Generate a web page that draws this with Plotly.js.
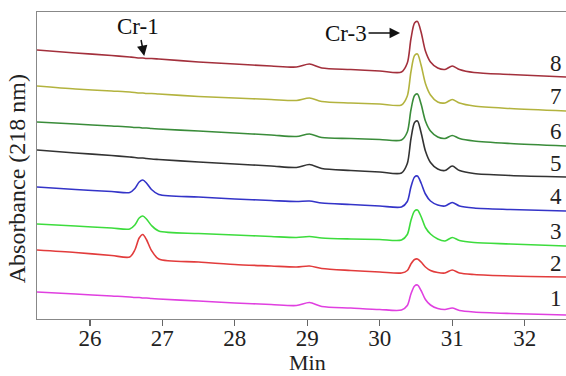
<!DOCTYPE html>
<html><head><meta charset="utf-8">
<script src="https://cdn.plot.ly/plotly-3.0.1.min.js"></script>
<style>html,body{margin:0;padding:0;background:#fff}#chart{width:566px;height:376px}</style>
</head><body><div id="chart"></div>
<script>
// Retention time (min)
const timeMin = [25.27, 25.8, 26.3, 26.55, 26.62, 26.68, 26.73, 26.78, 26.85, 26.95, 27.5, 28.0, 28.5, 28.85, 29.03, 29.2, 29.6, 30.0, 30.3, 30.38, 30.43, 30.48, 30.52, 30.57, 30.63, 30.7, 30.8, 30.9, 31.0, 31.1, 31.3, 31.8, 32.57];

// Absorbance traces (stacked, arbitrary units)
const trace1 = [27, 25, 23, 22, 21.5, 21.5, 21, 21, 20.5, 20, 18, 16, 14.5, 13.5, 16.5, 12.5, 11, 9.5, 9, 13.5, 25, 33, 34, 28.5, 19.5, 14, 10.5, 9.5, 11, 8.5, 7, 5.5, 4];
const trace2 = [69, 66.5, 63.5, 62, 69, 81, 84.5, 79.5, 68.5, 60, 57, 54.5, 53, 52, 53, 50.5, 48.5, 47, 46, 48.5, 55, 59.5, 60, 57, 52, 48.5, 46.5, 46, 49, 46, 44.5, 43, 42];
const trace3 = [95, 93, 91, 90, 94, 101, 103, 100, 93.5, 88, 85.5, 84, 82.5, 81.5, 82.5, 81, 80, 79.5, 79, 84.5, 98.5, 108, 109, 102.5, 91.5, 85, 80, 78, 81.5, 78.5, 76.5, 75, 73];
const trace4 = [132, 129.5, 127.5, 126.5, 130.5, 137, 139, 136, 129.5, 124.5, 122, 120, 118.5, 117.5, 118, 116, 114.5, 113, 112, 117.5, 132, 142, 143, 136, 125, 118, 114, 113, 116.5, 113, 111, 109.5, 108];
const trace5 = [169, 166, 163.5, 162, 161.5, 161, 161, 160.5, 160, 159.5, 157, 155, 153, 151.5, 154.5, 150.5, 148.5, 147, 146, 155.5, 180, 196.5, 198, 186.5, 168, 156.5, 150, 148.5, 153, 148.5, 145.5, 143.5, 142];
const trace6 = [197, 195, 193, 192, 191.5, 191.5, 191, 191, 190.5, 190, 188, 186, 184, 182.5, 185, 181.5, 180.5, 179.5, 179, 187, 209, 223.5, 225, 215, 198, 188, 182, 180.5, 183.5, 180.5, 178, 175.5, 173];
const trace7 = [233, 230, 228, 227, 226.5, 226, 226, 225.5, 225.5, 225, 222.5, 221, 219.5, 218.5, 221, 217.5, 216, 215, 214, 223, 247, 263.5, 265, 254, 235.5, 224, 217, 216, 219.5, 216, 213, 210.5, 208];
const trace8 = [269, 266, 263.5, 262, 261.5, 261, 261, 260.5, 260.5, 260, 257, 255, 253, 252, 255, 251, 249.5, 248, 247, 256, 280, 296, 297.5, 287, 268, 257, 251, 249.5, 253, 249.5, 246.5, 244.5, 242];

const traceNames = ["1", "2", "3", "4", "5", "6", "7", "8"];
const traceLabelY = [21, 56, 88, 123, 156, 188, 223, 256];
const tickVals = [26, 27, 28, 29, 30, 31, 32];

const seriesList = [trace1, trace2, trace3, trace4, trace5, trace6, trace7, trace8];
const colors = ["#e040e0", "#e23c3c", "#3ddc3d", "#3434c8", "#333333", "#3a8c3a", "#b3b33e", "#a3303c"];

const serif = "Liberation Serif, Times New Roman, serif";

const data = seriesList.map((ys, i) => ({
  x: timeMin, y: ys, type: "scatter", mode: "lines",
  line: {color: colors[i], width: 1.6, shape: "spline", smoothing: 0.8},
  name: traceNames[i], hoverinfo: "skip"
}));

const annotations = traceNames.map((t, i) => ({
  x: 32.43, y: traceLabelY[i], xref: "x", yref: "y", text: t, showarrow: false,
  font: {family: serif, size: 23, color: "#222"}
}));
annotations.push({
  x: 26.75, y: 263, xref: "x", yref: "y", text: "Cr-1", showarrow: true,
  ax: -6, ay: -30, arrowhead: 2, arrowsize: 1.4, arrowwidth: 1.5, arrowcolor: "#111",
  font: {family: serif, size: 23, color: "#111"}
});
annotations.push({
  x: 30.28, y: 286, xref: "x", yref: "y", text: "Cr-3", showarrow: true,
  ax: -54, ay: 0, arrowhead: 2, arrowsize: 1.4, arrowwidth: 1.5, arrowcolor: "#111",
  font: {family: serif, size: 23, color: "#111"}
});
// axis titles
annotations.push({
  xref: "paper", yref: "paper", x: -0.038, y: 0.458, xanchor: "center", yanchor: "middle",
  text: "Absorbance (218 nm)", textangle: -90, showarrow: false,
  font: {family: serif, size: 24, color: "#222"}
});
annotations.push({
  xref: "paper", yref: "paper", x: 0.512, y: -0.143, xanchor: "center", yanchor: "middle",
  text: "Min", showarrow: false,
  font: {family: serif, size: 22, color: "#222"}
});

const layout = {
  width: 566, height: 376,
  margin: {l: 37, r: 0, t: 12, b: 57},
  paper_bgcolor: "#fff", plot_bgcolor: "#fff",
  showlegend: false,
  xaxis: {
    range: [25.27, 32.57], tickvals: tickVals, ticks: "outside", ticklen: 6, tickwidth: 1.2,
    tickcolor: "#666", showline: true, linecolor: "#888", linewidth: 1.3, mirror: true,
    showgrid: false, zeroline: false, ticklabelstandoff: -8,
    tickfont: {family: serif, size: 23, color: "#222"}
  },
  yaxis: {
    range: [0, 307], showticklabels: false, ticks: "", showline: true, linecolor: "#888",
    linewidth: 1.3, showgrid: false, zeroline: false
  },
  annotations: annotations
};

Plotly.newPlot("chart", data, layout, {displayModeBar: false, staticPlot: true});
</script>
</body></html>
